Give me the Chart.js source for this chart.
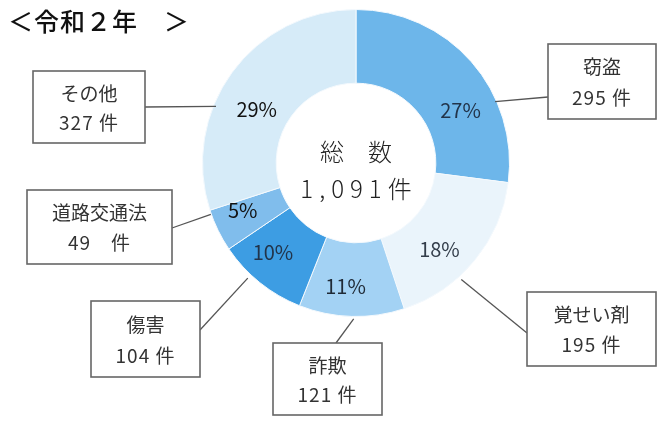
<!DOCTYPE html>
<html><head><meta charset="utf-8">
<script src="https://cdn.jsdelivr.net/npm/chart.js@4"></script>
<style>html,body{margin:0;padding:0;background:#fff}#wrap{width:664px;height:421px;position:relative}</style>
</head><body><div id="wrap"><canvas id="c" width="664" height="421"></canvas></div>
<script>
const categories = ['窃盗', '覚せい剤', '詐欺', '傷害', '道路交通法', 'その他'];
const counts = [295, 195, 121, 104, 49, 327];
const percentLabels = ['27%', '18%', '11%', '10%', '5%', '29%'];
const countLabels = ['295 件', '195 件', '121 件', '104 件', '49　件', '327 件'];
const colors = ['#6db6ea', '#eaf4fb', '#a3d2f4', '#3d9de3', '#80bdec', '#d6ebf8'];
const totalLabel = '1,091件';
const title = '＜令和２年　＞';

// label placement (fraction along the arc, radius in px)
const pctPlace = [[0.65,117],[0.60,120],[0.58,124],[0.62,122],[0.69,123],[0.43,113]];
const pctColor = ['#22344a','#333d4a','#1f2a36','#22344a','#111','#111'];
// callout boxes [x, y, w, h] and leader line (arc fraction, radius, end x, end y)
const boxes = [[548,44,108,75],[527,292,129,74],[273,343,109,72],[91,301,109,76],[27,190,145,74],[33,71,112,72]];
const leaders = [[0.68,152,548,97],[0.63,157,527,333],[0.48,156,336,343],[0.63,158,200,330],[0.9,154,172,228],[0.37,151,145,107]];

const FONT = '"Noto Sans CJK JP", "Noto Sans", sans-serif';

const overlay = {
  id: 'overlay',
  afterDraw(chart) {
    const ctx = chart.ctx;
    const meta = chart.getDatasetMeta(0);
    ctx.save();
    // title
    ctx.fillStyle = '#111';
    ctx.font = '500 25px ' + FONT;
    ctx.textBaseline = 'middle';
    ctx.textAlign = 'left';
    ctx.letterSpacing = '1px';
    ctx.fillText(title, 8, 21);
    ctx.letterSpacing = '0px';

    const arc0 = meta.data[0];
    const cx = arc0.x, cy = arc0.y;
    // center text
    ctx.textAlign = 'center';
    ctx.fillStyle = '#222';
    ctx.font = '300 24px ' + FONT;
    ctx.fillText('総　数', cx, 152);
    ctx.letterSpacing = '6px';
    ctx.fillText(totalLabel, cx + 3, 189);
    ctx.letterSpacing = '0px';

    meta.data.forEach((arc, i) => {
      const a0 = arc.startAngle, a1 = arc.endAngle;
      // percentage label
      const pa = a0 + (a1 - a0) * pctPlace[i][0];
      const pr = pctPlace[i][1];
      ctx.fillStyle = pctColor[i];
      ctx.font = '400 20px ' + FONT;
      ctx.textAlign = 'center';
      ctx.fillText(percentLabels[i], cx + pr * Math.cos(pa), cy + pr * Math.sin(pa));
      // leader line
      const L = leaders[i];
      const la = a0 + (a1 - a0) * L[0];
      ctx.strokeStyle = '#555';
      ctx.lineWidth = 1.3;
      ctx.beginPath();
      ctx.moveTo(cx + L[1] * Math.cos(la), cy + L[1] * Math.sin(la));
      ctx.lineTo(L[2], L[3]);
      ctx.stroke();
      // box
      const b = boxes[i];
      ctx.fillStyle = '#fff';
      ctx.fillRect(b[0], b[1], b[2], b[3]);
      ctx.strokeStyle = '#666';
      ctx.lineWidth = 1.6;
      ctx.strokeRect(b[0], b[1], b[2], b[3]);
      ctx.fillStyle = '#333';
      ctx.font = '400 19px ' + FONT;
      ctx.fillText(categories[i], b[0] + b[2] / 2, b[1] + b[3] * 0.31);
      ctx.letterSpacing = '1px';
      ctx.fillText(countLabels[i], b[0] + b[2] / 2, b[1] + b[3] * 0.72);
      ctx.letterSpacing = '0px';
    });
    ctx.restore();
  }
};

new Chart(document.getElementById('c'), {
  type: 'doughnut',
  data: {
    labels: categories,
    datasets: [{ data: counts, backgroundColor: colors, borderColor: '#f4f9fd', borderWidth: 1 }]
  },
  options: {
    responsive: false,
    animation: false,
    cutout: '52%',
    layout: { padding: { left: 202, right: 154, top: 9, bottom: 104 } },
    plugins: { legend: { display: false }, tooltip: { enabled: false } }
  },
  plugins: [overlay]
});
</script></body></html>
